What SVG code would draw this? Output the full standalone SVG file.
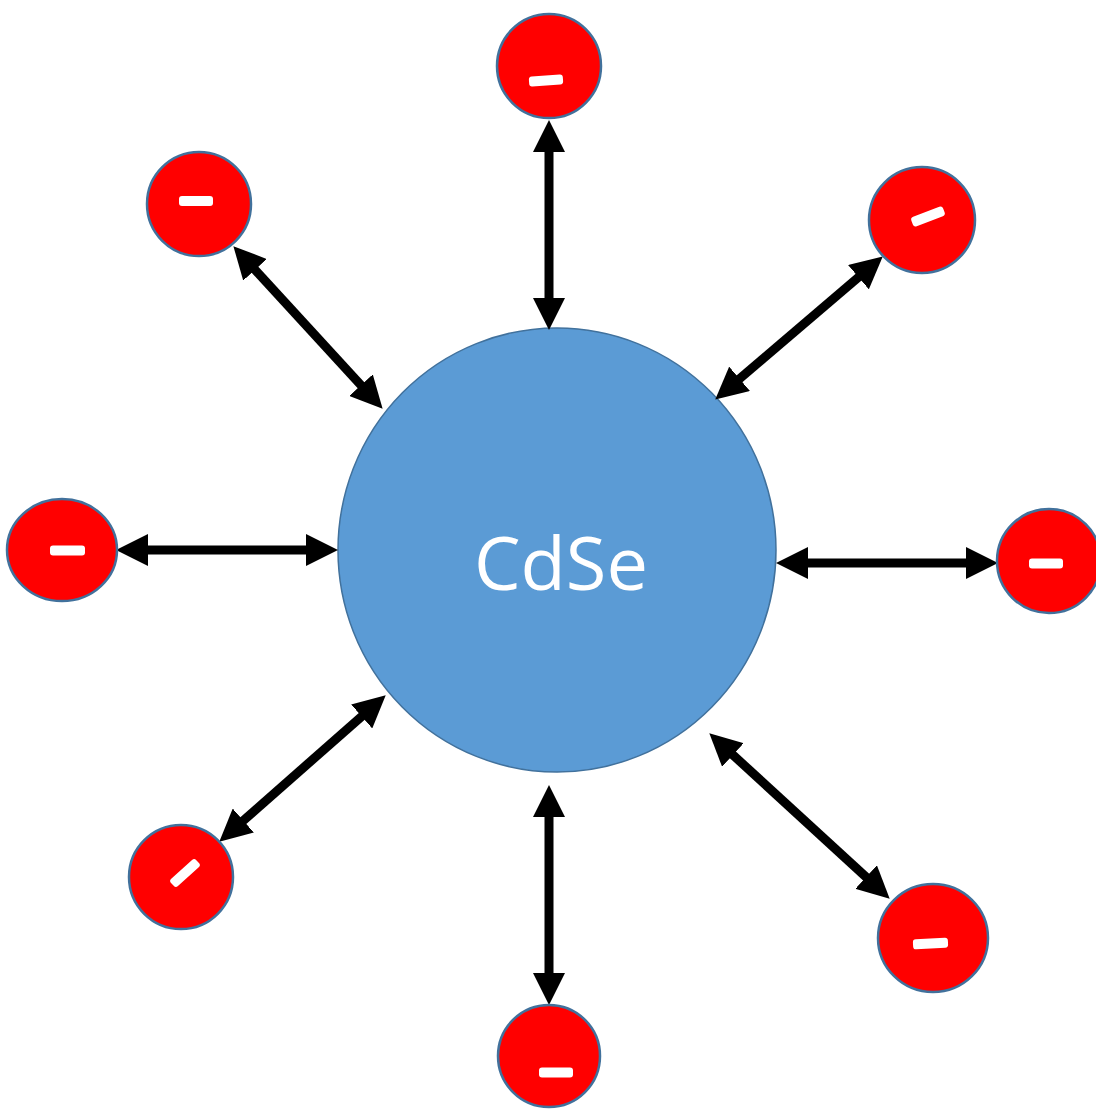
<svg xmlns="http://www.w3.org/2000/svg" width="1096" height="1111" viewBox="0 0 1096 1111">
<style>
.ion{fill:#FF0000;stroke:#41719C;stroke-width:2.5}
.minus{fill:#FFFFFF}
.arrow{stroke:#000;stroke-width:9;fill:none;marker-start:url(#head);marker-end:url(#head)}
.core{fill:#5B9BD5;stroke:#41719C;stroke-width:1.5}
.label{fill:#FFFFFF;font-family:"Open Sans","Liberation Sans",sans-serif;font-size:74px;text-anchor:middle}
</style>
<defs>
<marker id="head" markerUnits="userSpaceOnUse" markerWidth="32" markerHeight="32" refX="15" refY="15" orient="auto-start-reverse" viewBox="0 0 30 30">
<path d="M0,0 L30,15 L0,30 z" fill="#000"/>
</marker>
</defs>
<rect width="1096" height="1111" fill="#FFFFFF"/>
<g id="core">
<ellipse class="core" cx="557" cy="550" rx="219" ry="222"/>
<text class="label" x="561" y="590">CdSe</text>
</g>
<g id="connectors">
<line class="arrow" x1="549" y1="136" x2="549" y2="314"/>
<line class="arrow" x1="549" y1="801" x2="549" y2="989"/>
<line class="arrow" x1="132" y1="550" x2="322" y2="550"/>
<line class="arrow" x1="792" y1="563" x2="982" y2="563"/>
<line class="arrow" x1="244.2" y1="258" x2="371.8" y2="397"/>
<line class="arrow" x1="870.6" y1="266.8" x2="727.4" y2="389.2"/>
<line class="arrow" x1="373.7" y1="705.9" x2="231.3" y2="831.1"/>
<line class="arrow" x1="721.1" y1="744.1" x2="877.9" y2="887.9"/>
</g>
<g id="ion-top">
<circle class="ion" cx="549" cy="66" r="52"/>
<rect class="minus" x="529" y="75.5" width="34" height="10" rx="3" transform="rotate(-4 546 80.5)"/>
</g>
<g id="ion-top-left">
<circle class="ion" cx="199" cy="204" r="52"/>
<rect class="minus" x="179" y="196" width="34" height="10" rx="3"/>
</g>
<g id="ion-top-right">
<circle class="ion" cx="922" cy="220" r="53"/>
<rect class="minus" x="911" y="211.5" width="34" height="10" rx="3" transform="rotate(-21 928 216.5)"/>
</g>
<g id="ion-left">
<ellipse class="ion" cx="62" cy="550" rx="55" ry="51"/>
<rect class="minus" x="50" y="545.5" width="35" height="10" rx="3"/>
</g>
<g id="ion-right">
<circle class="ion" cx="1049" cy="561" r="52"/>
<rect class="minus" x="1029" y="558.5" width="34" height="10" rx="3"/>
</g>
<g id="ion-bottom-left">
<circle class="ion" cx="181" cy="877" r="52"/>
<rect class="minus" x="168" y="868" width="34" height="10" rx="3" transform="rotate(-42 185 873)"/>
</g>
<g id="ion-bottom-right">
<ellipse class="ion" cx="933" cy="938" rx="55" ry="54"/>
<rect class="minus" x="913" y="938.5" width="35" height="10" rx="3" transform="rotate(-3 930.5 943.5)"/>
</g>
<g id="ion-bottom">
<circle class="ion" cx="549" cy="1056" r="51"/>
<rect class="minus" x="539" y="1067.5" width="34" height="10" rx="3"/>
</g>
</svg>
